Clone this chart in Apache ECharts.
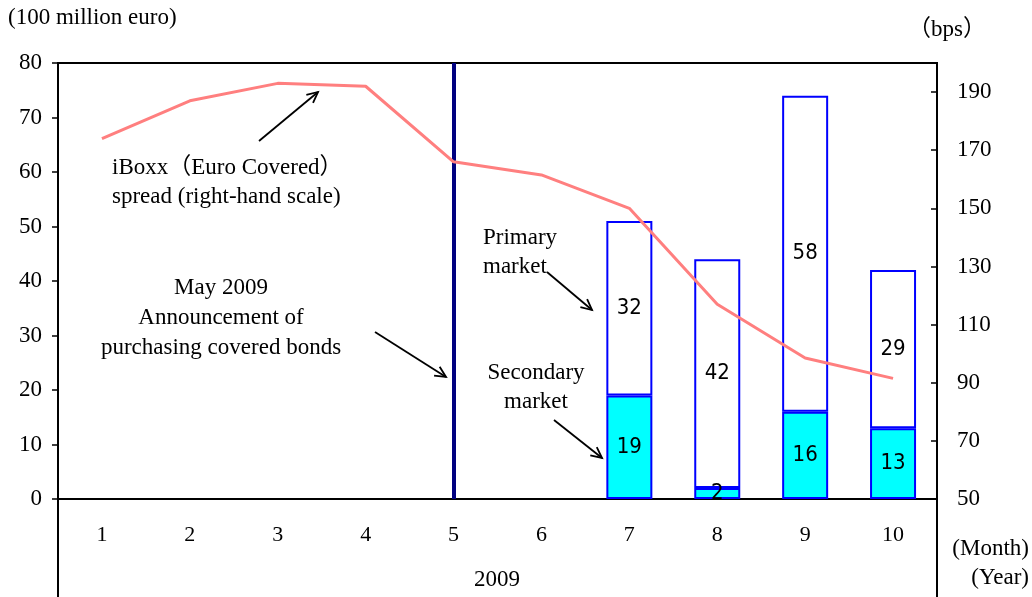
<!DOCTYPE html>
<html>
<head>
<meta charset="utf-8">
<script src="https://cdn.jsdelivr.net/npm/echarts@6/dist/echarts.min.js"></script>
<style>
  html, body { margin: 0; padding: 0; background: #ffffff; }
  #chart { width: 1032px; height: 597px; }
</style>
</head>
<body>
<div id="chart"></div>
<script>
// Months of 2009
const months = ['1', '2', '3', '4', '5', '6', '7', '8', '9', '10'];
// Covered bond issuance (100 million euro)
const secondaryMarket = [null, null, null, null, null, null, 19, 2, 16, 13];
const primaryMarket = [null, null, null, null, null, null, 32, 42, 58, 29];
// iBoxx (Euro Covered) spread, bps
const iboxxSpread = [174, 187, 193, 192, 166, 161.5, 150, 117, 98.5, 91.5];
// Month of the purchase announcement
const announcementMonth = '5';

const SERIF = '"Liberation Serif", "Times New Roman", "Noto Sans CJK JP", serif';
const NARROW = '"Liberation Sans Narrow", "Arial Narrow", "DejaVu Sans Condensed", sans-serif';

const chart = echarts.init(document.getElementById('chart'), null, { renderer: 'canvas' });

// Annotation arrow: straight shaft with an open V head at the end point
function arrow(x1, y1, x2, y2) {
  const a = Math.atan2(y2 - y1, x2 - x1);
  const L = 12, w = 0.45;
  const p1 = [x2 - L * Math.cos(a - w), y2 - L * Math.sin(a - w)];
  const p2 = [x2 - L * Math.cos(a + w), y2 - L * Math.sin(a + w)];
  const style = { stroke: '#000', lineWidth: 1.8, fill: null };
  return [
    { type: 'line', shape: { x1, y1, x2, y2 }, style, z: 100 },
    { type: 'polyline', shape: { points: [p1, [x2, y2], p2] }, style, z: 100 }
  ];
}

function text(x, y, str, align, size) {
  return {
    type: 'text', x, y, z: 100,
    style: {
      text: str, font: (size || 23) + 'px ' + SERIF, fill: '#000',
      textAlign: align || 'left', textVerticalAlign: 'middle'
    }
  };
}

const textBlock = (x, y0, lines, align, gap) =>
  lines.map((s, i) => text(x, y0 + i * gap, s, align));

const graphics = [].concat(
  [
    text(8, 18, '(100 million euro)'),
    text(947, 30, '（bps）', 'center'),
    text(1029, 549, '(Month)', 'right'),
    text(1029, 578, '(Year)', 'right'),
    text(497, 580, '2009', 'center'),
    // frame extension below the month axis
    { type: 'line', shape: { x1: 58, y1: 499, x2: 58, y2: 597 }, style: { stroke: '#000', lineWidth: 2 } },
    { type: 'line', shape: { x1: 937, y1: 499, x2: 937, y2: 597 }, style: { stroke: '#000', lineWidth: 2 } }
  ],
  textBlock(112, 168, ['iBoxx（Euro Covered）', 'spread (right-hand scale)'], 'left', 29),
  textBlock(221, 288, ['May 2009', 'Announcement of', 'purchasing covered bonds'], 'center', 30),
  textBlock(483, 238, ['Primary', 'market'], 'left', 29),
  textBlock(536, 373, ['Secondary', 'market'], 'center', 29),
  arrow(259, 141, 318, 92),
  arrow(375, 332, 446, 377),
  arrow(547, 272, 592, 310),
  arrow(554, 420, 602, 458)
);

const barLabel = {
  show: true, position: 'inside', color: '#000',
  fontFamily: NARROW, fontSize: 22
};

chart.setOption({
  animation: false,
  backgroundColor: '#ffffff',
  grid: {
    left: 58, right: 95, top: 63, bottom: 98,
    show: true, borderColor: '#000', borderWidth: 2, backgroundColor: 'transparent'
  },
  xAxis: {
    type: 'category',
    data: months,
    boundaryGap: true,
    axisLine: { lineStyle: { color: '#000', width: 2 } },
    axisTick: { show: false },
    axisLabel: { color: '#000', fontFamily: SERIF, fontSize: 22, margin: 25 },
    splitLine: { show: false }
  },
  yAxis: [
    {
      type: 'value', min: 0, max: 80, interval: 10,
      axisLine: { show: true, lineStyle: { color: '#000', width: 2 } },
      axisTick: { show: true, inside: false, length: 6, lineStyle: { color: '#000', width: 1.5 } },
      axisLabel: { color: '#000', fontFamily: SERIF, fontSize: 23, margin: 16 },
      splitLine: { show: false }
    },
    {
      type: 'value', min: 50, max: 200, interval: 20, position: 'right',
      axisLine: { show: true, lineStyle: { color: '#000', width: 2 } },
      axisTick: { show: true, inside: true, length: 6, lineStyle: { color: '#000', width: 1.5 } },
      axisLabel: {
        color: '#000', fontFamily: SERIF, fontSize: 23, margin: 20,
        formatter: v => (v === 200 ? '' : String(v))
      },
      splitLine: { show: false }
    }
  ],
  series: [
    {
      name: 'Secondary market', type: 'bar', stack: 'issuance',
      data: secondaryMarket, barWidth: 46,
      itemStyle: { color: '#00FFFF', borderColor: '#0000FF', borderWidth: 2 },
      label: barLabel,
      z: 2,
      markLine: {
        silent: true, symbol: 'none',
        label: { show: false },
        lineStyle: { color: '#000080', width: 4, type: 'solid' },
        data: [{ xAxis: announcementMonth }]
      }
    },
    {
      name: 'Primary market', type: 'bar', stack: 'issuance',
      data: primaryMarket, barWidth: 46,
      itemStyle: { color: '#ffffff', borderColor: '#0000FF', borderWidth: 2 },
      label: barLabel,
      z: 2
    },
    {
      name: 'iBoxx (Euro Covered) spread', type: 'line', yAxisIndex: 1,
      data: iboxxSpread, showSymbol: false, symbol: 'none',
      lineStyle: { color: '#FF7F7F', width: 3 },
      z: 5
    }
  ],
  graphic: graphics
});
</script>
</body>
</html>
